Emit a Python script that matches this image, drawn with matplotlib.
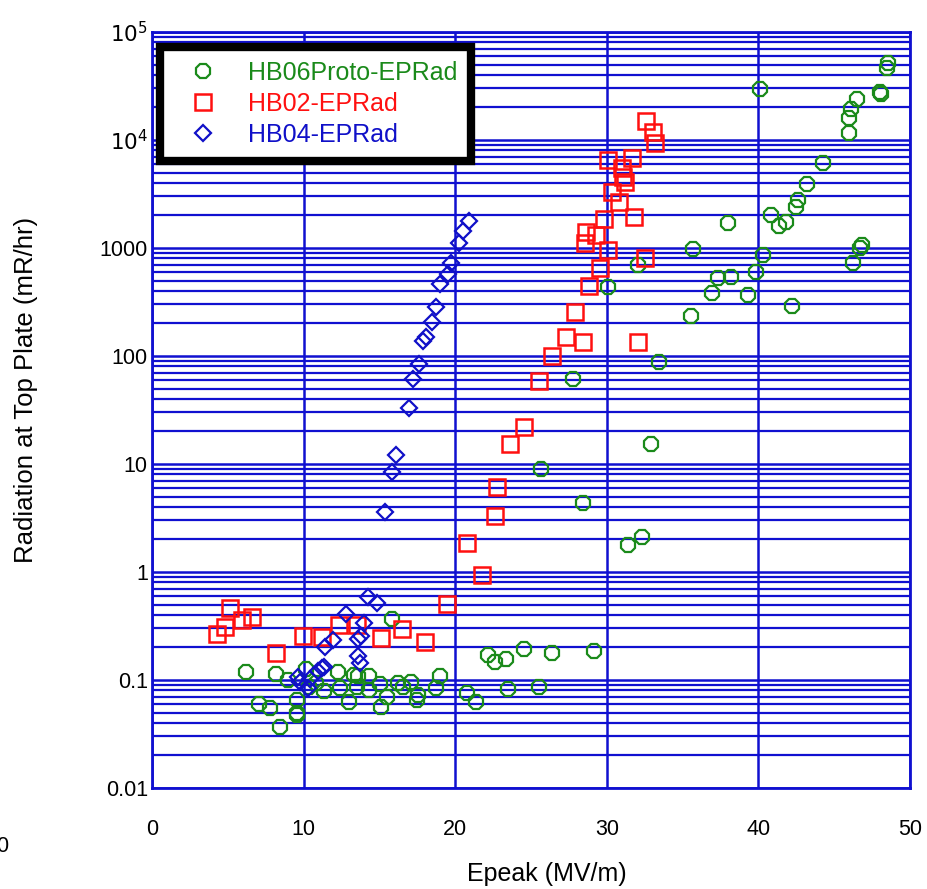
import matplotlib
matplotlib.use('Agg')
import matplotlib.pyplot as plt
from matplotlib.ticker import FixedLocator, FixedFormatter, LogLocator, NullFormatter

plt.rcParams['font.family'] = ['Liberation Sans', 'DejaVu Sans']

# HB06Proto-EPRad (green circles)
hb06_x = [6.22, 8.18, 8.96, 10.13, 7.03, 7.76, 8.44, 9.54, 9.58, 9.54,
          10.38, 10.82, 11.35, 12.29, 12.40, 13.01, 13.32, 13.49, 13.61, 14.33,
          14.33, 15.04, 15.12, 15.48, 15.81, 16.25, 16.58, 17.06, 17.57, 17.50,
          18.75, 19.0, 20.80, 21.34, 22.18, 22.63, 23.35, 23.46, 24.56, 25.53,
          26.37, 29.16,
          27.75, 33.46, 25.66, 28.45, 32.90, 31.38, 32.34, 32.08, 30.10,
          48.57, 48.46, 40.11, 48.02, 48.07, 46.52, 46.09, 45.98, 45.98, 44.28,
          43.19, 42.63, 42.48, 40.81, 41.80, 41.38, 38.01, 35.67, 40.28, 46.81,
          46.70, 46.22, 39.84, 37.35, 38.17, 36.92, 39.29, 42.20, 35.53]
hb06_y = [0.119, 0.114, 0.1, 0.126, 0.0604, 0.0556, 0.037, 0.0653, 0.0498, 0.0474,
          0.0867, 0.093, 0.0796, 0.119, 0.0843, 0.0629, 0.111, 0.0867, 0.109, 0.109,
          0.0807, 0.0918, 0.0562, 0.0689, 0.365, 0.093, 0.0867, 0.0964, 0.0726, 0.0653,
          0.0838, 0.108, 0.0759, 0.0629, 0.170, 0.148, 0.156, 0.0826, 0.192, 0.0867,
          0.179, 0.186,
          60.9, 87.4, 8.93, 4.38, 15.2, 1.78, 2.10, 696, 438,
          51300, 46100, 29500, 28000, 26700, 23800, 19200, 15900, 11700, 6170,
          3917, 2782, 2412, 2021, 1753, 1608, 1693, 979, 861, 1066,
          1006, 722, 603, 524, 542, 381, 367, 290, 235]

# HB02-EPRad (red squares)
hb02_x = [4.27, 4.82, 5.15, 5.92, 6.58, 8.18, 9.98, 11.21, 12.32, 13.50,
          15.11, 16.49, 18.03, 19.44,
          27.31, 28.43, 32.04, 26.37, 25.55, 24.54, 23.61, 22.74, 22.63, 20.80,
          21.75,
          32.59, 33.03, 33.18, 30.10, 31.64, 30.98, 31.09, 31.20, 30.32, 30.82,
          31.79, 29.84, 28.63, 29.29, 28.56, 30.10, 32.52, 29.55, 28.85, 27.90]
hb02_y = [0.267, 0.308, 0.461, 0.36, 0.381, 0.179, 0.257, 0.252, 0.323, 0.323,
          0.243, 0.294, 0.226, 0.502,
          149, 136, 136, 100, 59, 21.9, 15.2, 6.17, 3.30, 1.84,
          0.937,
          15100, 11900, 9310, 6530, 6860, 5470, 4516, 4110, 3320, 2650,
          1950, 1857, 1416, 1320, 1120, 958, 803, 649, 445, 257]

# HB04-EPRad (blue diamonds)
hb04_x = [20.93, 20.53, 20.25, 19.70, 19.54, 19.0, 18.73, 18.45, 18.05, 17.86,
          17.61, 17.20, 16.93, 16.09, 15.81, 15.39,
          14.27, 14.86, 12.78, 13.98, 13.79, 13.61, 11.92, 11.39, 13.61, 13.74,
          11.34, 11.19, 10.97, 9.65, 9.76, 10.31, 10.42]
hb04_y = [1778, 1436, 1105, 731, 571, 461, 282, 205, 151, 138,
          84.3, 61.2, 32.8, 12.1, 8.43, 3.62,
          0.583, 0.52, 0.405, 0.34, 0.257, 0.238, 0.234, 0.203, 0.167, 0.143,
          0.131, 0.128, 0.122, 0.107, 0.0964, 0.0838, 0.102]

ytick_vals = [0.01, 0.1, 1, 10, 100, 1000, 1e4, 1e5]
ytick_labels = ['0.01', '0.1', '1', '10', '100', '1000', r'$10^4$', r'$10^5$']
xtick_vals = [0, 10, 20, 30, 40, 50]

grid_col = '#1010d0'

fig = plt.figure(figsize=(9.27, 8.89), dpi=100)
ax = fig.add_axes([0.164, 0.1136, 0.8177, 0.8504])

ax.plot(hb06_x, hb06_y, linestyle='none', marker='8', ms=11, mfc='none',
        mec='#1a8a1a', mew=1.6, label='HB06Proto-EPRad', zorder=3)
ax.plot(hb02_x, hb02_y, linestyle='none', marker='s', ms=12, mfc='none',
        mec='#ff1010', mew=1.8, label='HB02-EPRad', zorder=3)
ax.plot(hb04_x, hb04_y, linestyle='none', marker='D', ms=8.5, mfc='none',
        mec='#1010c8', mew=1.6, label='HB04-EPRad', zorder=3)

ax.set_yscale('log')
ax.set_xlim(0, 50)
ax.set_ylim(0.01, 1e5)

ax.xaxis.set_major_locator(FixedLocator(xtick_vals))
ax.yaxis.set_major_locator(FixedLocator(ytick_vals))
ax.yaxis.set_major_formatter(FixedFormatter(ytick_labels))
ax.yaxis.set_minor_locator(LogLocator(base=10, subs=range(2, 10), numticks=20))
ax.yaxis.set_minor_formatter(NullFormatter())

ax.grid(True, which='major', axis='both', color=grid_col, lw=1.8)
ax.grid(True, which='minor', axis='y', color=grid_col, lw=1.6)
ax.set_axisbelow(True)
for s in ax.spines.values():
    s.set_color(grid_col)
    s.set_linewidth(2)

ax.tick_params(axis='both', which='both', length=0, labelsize=15.5)
ax.tick_params(axis='y', pad=3)
ax.tick_params(axis='x', pad=22)

ax.set_xlabel('Epeak (MV/m)', fontsize=18)
ax.xaxis.set_label_coords(0.521, -0.098)
ax.set_ylabel('Radiation at Top Plate (mR/hr)', fontsize=18.5)
ax.yaxis.set_label_coords(-0.150, 0.526)

leg = ax.legend(loc='upper left', bbox_to_anchor=(0.0, 0.99), fontsize=18,
                frameon=True, fancybox=False, shadow=False, borderpad=0.55,
                handletextpad=0.6, labelspacing=0.28, handlelength=2.4,
                borderaxespad=0.3)
leg.get_frame().set_edgecolor('black')
leg.get_frame().set_linewidth(6)
leg.get_frame().set_alpha(1)
for txt, col in zip(leg.get_texts(), ['#1a8a1a', '#ff1010', '#1010c8']):
    txt.set_color(col)

fig.text(-0.004, 0.042, '0', fontsize=15.5)

fig.savefig('out.png', dpi=100)
